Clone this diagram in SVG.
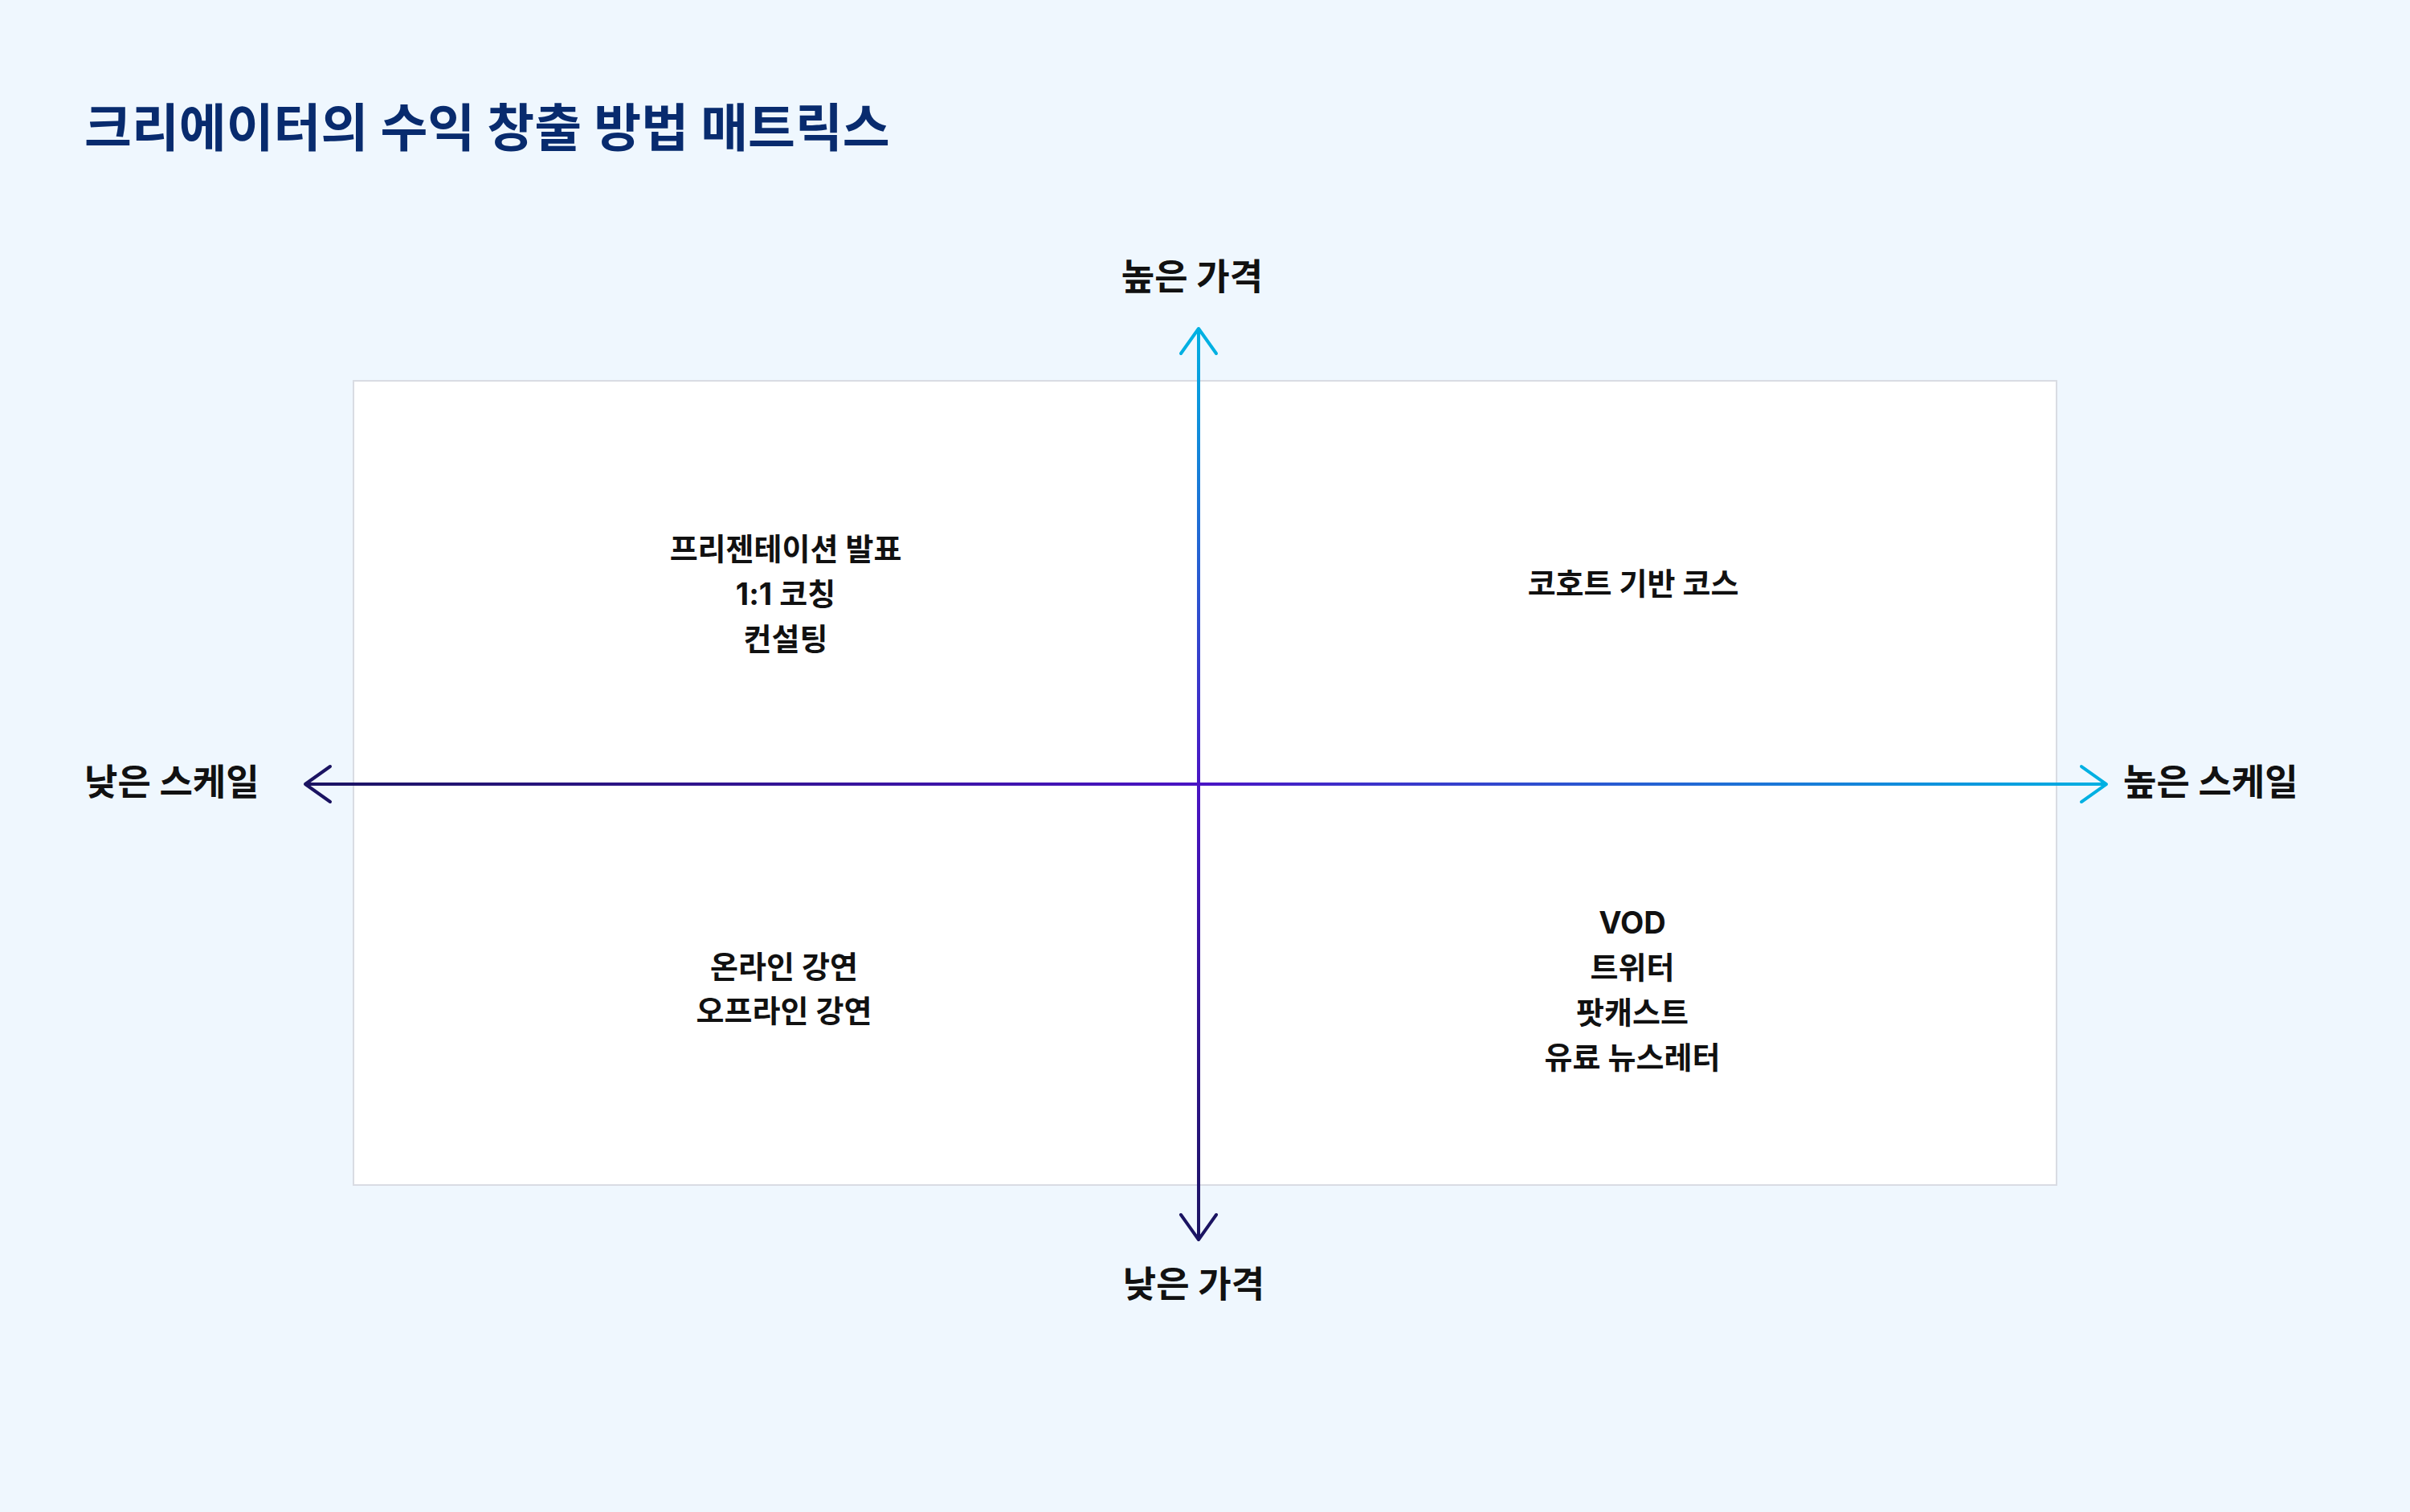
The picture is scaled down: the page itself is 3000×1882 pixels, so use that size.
<svg xmlns="http://www.w3.org/2000/svg" width="3000" height="1882" viewBox="0 0 3000 1882">
  <style>
    .title { font-family: Inter, "Noto Sans CJK KR", sans-serif; font-weight: 700; font-size: 64px; fill: #082b6e; }
    .axis-label { font-family: Inter, "Noto Sans CJK KR", sans-serif; font-weight: 700; font-size: 45px; fill: #111111; }
    .item { font-family: Inter, "Noto Sans CJK KR", sans-serif; font-weight: 700; font-size: 38px; fill: #111111; text-anchor: middle; }
    .axis { fill: none; stroke-width: 4; }
  </style>
  <defs>
    <linearGradient id="gradH" gradientUnits="userSpaceOnUse" x1="380" y1="976" x2="2622" y2="976">
      <stop offset="0" stop-color="#1b1462"/>
      <stop offset="0.496" stop-color="#4a14c4"/>
      <stop offset="1" stop-color="#00b0e2"/>
    </linearGradient>
    <linearGradient id="gradV" gradientUnits="userSpaceOnUse" x1="1492" y1="409" x2="1492" y2="1543">
      <stop offset="0" stop-color="#00b0e2"/>
      <stop offset="0.5" stop-color="#4a14c4"/>
      <stop offset="1" stop-color="#1b1462"/>
    </linearGradient>
    <marker id="arrowNavy" markerUnits="userSpaceOnUse" viewBox="-40 -30 50 60" markerWidth="50" markerHeight="60" refX="0" refY="0" orient="auto-start-reverse" overflow="visible">
      <path d="M -31 -22 L 0 0 L -31 22" fill="none" stroke="#1b1462" stroke-width="4" stroke-linecap="round" stroke-linejoin="round"/>
    </marker>
    <marker id="arrowCyan" markerUnits="userSpaceOnUse" viewBox="-40 -30 50 60" markerWidth="50" markerHeight="60" refX="0" refY="0" orient="auto-start-reverse" overflow="visible">
      <path d="M -31 -22 L 0 0 L -31 22" fill="none" stroke="#00b0e2" stroke-width="4" stroke-linecap="round" stroke-linejoin="round"/>
    </marker>
  </defs>

  <rect x="0" y="0" width="3000" height="1882" fill="#eff7fe"/>

  <text class="title" x="105" y="182">크리에이터의 수익 창출 방법 매트릭스</text>

  <g id="matrix-box">
    <rect x="440" y="474" width="2120" height="1001" fill="#ffffff" stroke="#d9dce3" stroke-width="2"/>
  </g>

  <g id="connectors">
    <line class="axis" x1="380" y1="976" x2="2622" y2="976.01" stroke="url(#gradH)" marker-start="url(#arrowNavy)" marker-end="url(#arrowCyan)"/>
    <line class="axis" x1="1492" y1="409" x2="1492.01" y2="1543" stroke="url(#gradV)" marker-start="url(#arrowCyan)" marker-end="url(#arrowNavy)"/>
  </g>

  <g id="label-high-price">
    <text class="axis-label" x="1484" y="361" text-anchor="middle">높은 가격</text>
  </g>
  <g id="label-low-price">
    <text class="axis-label" x="1486" y="1615" text-anchor="middle">낮은 가격</text>
  </g>
  <g id="label-low-scale">
    <text class="axis-label" x="105" y="990">낮은 스케일</text>
  </g>
  <g id="label-high-scale">
    <text class="axis-label" x="2643" y="990">높은 스케일</text>
  </g>

  <g id="quadrant-top-left">
    <text class="item" x="978" y="697">프리젠테이션 발표</text>
    <text class="item" x="978" y="753">1:1 코칭</text>
    <text class="item" x="978" y="809">컨설팅</text>
  </g>
  <g id="quadrant-top-right">
    <text class="item" x="2033" y="740">코호트 기반 코스</text>
  </g>
  <g id="quadrant-bottom-left">
    <text class="item" x="976" y="1217">온라인 강연</text>
    <text class="item" x="976" y="1272">오프라인 강연</text>
  </g>
  <g id="quadrant-bottom-right">
    <text class="item" x="2032" y="1162">VOD</text>
    <text class="item" x="2032" y="1218">트위터</text>
    <text class="item" x="2032" y="1274">팟캐스트</text>
    <text class="item" x="2032" y="1330">유료 뉴스레터</text>
  </g>
</svg>
